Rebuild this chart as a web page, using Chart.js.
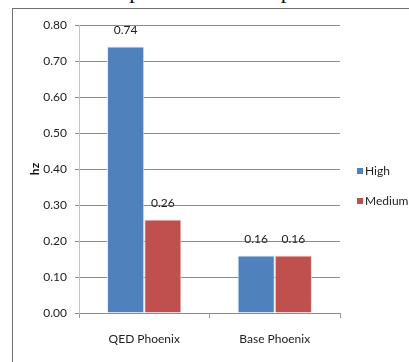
<!DOCTYPE html>
<html>
<head>
<meta charset="utf-8">
<script src="https://cdn.jsdelivr.net/npm/chart.js@4.4.1/dist/chart.umd.min.js"></script>
<style>
  html, body { margin: 0; padding: 0; background: #fff; }
  #wrap { position: relative; width: 409px; height: 362px; overflow: hidden; }
  #chart { position: absolute; left: 0; top: 0; }
  #frame { position: absolute; left: 12px; top: 8px; width: 500px; height: 400px;
           border-left: 1px solid #6f6f6f; border-top: 1px solid #6f6f6f; pointer-events: none; }
  #caption { position: absolute; left: 14px; top: -22px; white-space: nowrap; line-height: 26px;
             font-family: "Liberation Serif", serif; font-size: 23px; color: #111; letter-spacing: 0.3px; }
</style>
</head>
<body>
<div id="wrap">
  <div id="caption">scenario outperforms the improvement</div>
  <canvas id="chart" width="409" height="362"></canvas>
  <div id="frame"></div>
</div>
<script>
// Response rate per configuration
const categories = ['QED Phoenix', 'Base Phoenix'];
const seriesNames = ['High', 'Medium'];
const highValues = [0.74, 0.16];
const mediumValues = [0.26, 0.16];
const yTicks = [0, 0.1, 0.2, 0.3, 0.4, 0.5, 0.6, 0.7, 0.8];

const FONT = 'Lato, "Liberation Sans", Arial, sans-serif';
const BLUE = '#4F81BD';
const RED = '#C0504D';

// value labels above each bar
const valueLabels = {
  id: 'valueLabels',
  afterDatasetsDraw(chart) {
    const ctx = chart.ctx;
    ctx.save();
    ctx.font = '12px ' + FONT;
    ctx.fillStyle = '#222';
    ctx.textAlign = 'center';
    ctx.textBaseline = 'middle';
    chart.data.datasets.forEach((ds, i) => {
      chart.getDatasetMeta(i).data.forEach((bar, j) => {
        ctx.fillText(ds.data[j].toFixed(2), bar.x, bar.y - 16);
      });
    });
    ctx.restore();
  }
};

// legend on the right, square markers
const sideLegend = {
  id: 'sideLegend',
  afterDraw(chart) {
    const ctx = chart.ctx;
    const area = chart.chartArea;
    ctx.save();
    ctx.font = '12px ' + FONT;
    ctx.textBaseline = 'middle';
    ctx.textAlign = 'left';
    chart.data.datasets.forEach((ds, i) => {
      const x = area.right + 17;
      const y = area.top + 146 + i * 30;
      ctx.fillStyle = ds.backgroundColor;
      ctx.fillRect(x, y - 3, 6, 6);
      ctx.fillStyle = '#222';
      ctx.fillText(ds.label, x + 8, y);
    });
    ctx.restore();
  }
};

new Chart(document.getElementById('chart'), {
  type: 'bar',
  data: {
    labels: categories,
    datasets: [
      { label: seriesNames[0], data: highValues, backgroundColor: BLUE,
        borderColor: 'rgba(220,230,245,0.9)', borderWidth: 1,
        categoryPercentage: 0.57, barPercentage: 1.0 },
      { label: seriesNames[1], data: mediumValues, backgroundColor: RED,
        borderColor: 'rgba(245,215,215,0.9)', borderWidth: 1,
        categoryPercentage: 0.57, barPercentage: 1.0 }
    ]
  },
  options: {
    responsive: false,
    animation: false,
    layout: { padding: { left: 20, right: 69, top: 25, bottom: 0 } },
    plugins: { legend: { display: false }, tooltip: { enabled: false } },
    scales: {
      x: {
        grid: { display: true, drawOnChartArea: false, drawTicks: true, offset: true,
                tickLength: 5, color: '#9a9a9a' },
        border: { display: true, color: '#8a8a8a' },
        ticks: { color: '#222', font: { family: FONT, size: 12 }, padding: 14 },
        afterFit(scale) { scale.height = 49; }
      },
      y: {
        min: 0, max: 0.8,
        afterBuildTicks(scale) { scale.ticks = yTicks.map(v => ({ value: v })); },
        grid: { color: '#8c8c8c', tickLength: 4, drawTicks: true },
        border: { display: true, color: '#c4c4c4' },
        ticks: { color: '#222', font: { family: FONT, size: 12 }, padding: 8,
                 callback: v => Number(v).toFixed(2) },
        title: { display: true, text: 'hz', color: '#111',
                 font: { family: FONT, size: 12, weight: 'bold' },
                 padding: { top: 8, bottom: 0 } },
        afterFit(scale) { scale.width = 59; }
      }
    }
  },
  plugins: [valueLabels, sideLegend]
});
</script>
</body>
</html>
